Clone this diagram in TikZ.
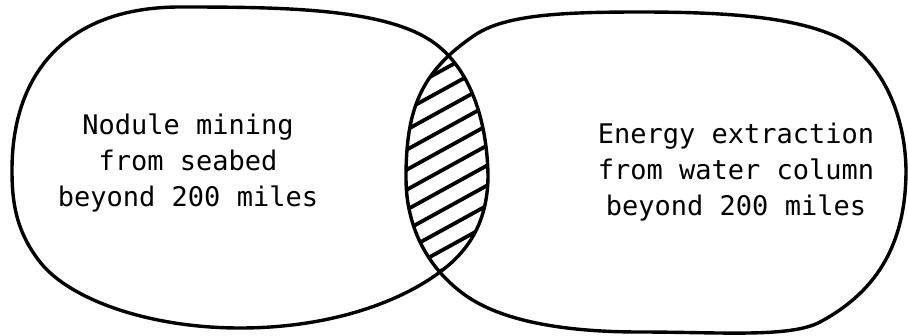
\documentclass[tikz,border=0pt]{standalone}
\usepackage{fontspec}
\setmonofont{DejaVu Sans Mono}
\usepackage{tikz}

% outlines of the two fields (pixel units, y downwards)
\newcommand\nodulefield{(12,170)
  .. controls (12,70) and (70,7) .. (180,7)
  .. controls (280,7) and (380,8) .. (430,40)
  .. controls (470,66) and (487,120) .. (488,175)
  .. controls (488,220) and (470,250) .. (440,272)
  .. controls (400,302) and (330,328) .. (240,328)
  .. controls (150,328) and (70,300) .. (40,262)
  .. controls (15,230) and (12,200) .. (12,170) -- cycle}
\newcommand\energyfield{(406,178)
  .. controls (406,110) and (420,72) .. (475,35)
  .. controls (505,15) and (560,12) .. (640,12)
  .. controls (720,12) and (790,16) .. (835,36)
  .. controls (875,54) and (905,105) .. (906,170)
  .. controls (906,240) and (880,290) .. (820,322)
  .. controls (790,338) and (720,332) .. (640,332)
  .. controls (560,332) and (500,320) .. (465,295)
  .. controls (430,270) and (406,230) .. (406,178) -- cycle}

\begin{document}
\begin{tikzpicture}[x=1pt, y=-1pt,
    blobline/.style={line width=3.4pt, line join=round},
    hatchline/.style={line width=3.8pt},
    blobtext/.style={align=center, inner sep=0pt,
      font=\ttfamily\fontsize{27}{36}\selectfont}]
  \useasboundingbox (0,0) rectangle (908,335);

  % hatched overlap
  \begin{scope}
    \clip \nodulefield;
    \clip \energyfield;
    \foreach \c in {0,...,12}
      \draw[hatchline] (348,67+20*\c+55) -- (548,67+20*\c-55);
  \end{scope}

  \draw[blobline] \nodulefield;
  \draw[blobline] \energyfield;

  \node[blobtext] (nodule) at (188,163)
    {Nodule mining\\from seabed\\beyond 200 miles};
  \node[blobtext] (energy) at (736,172)
    {Energy extraction\\from water column\\beyond 200 miles};
\end{tikzpicture}
\end{document}
